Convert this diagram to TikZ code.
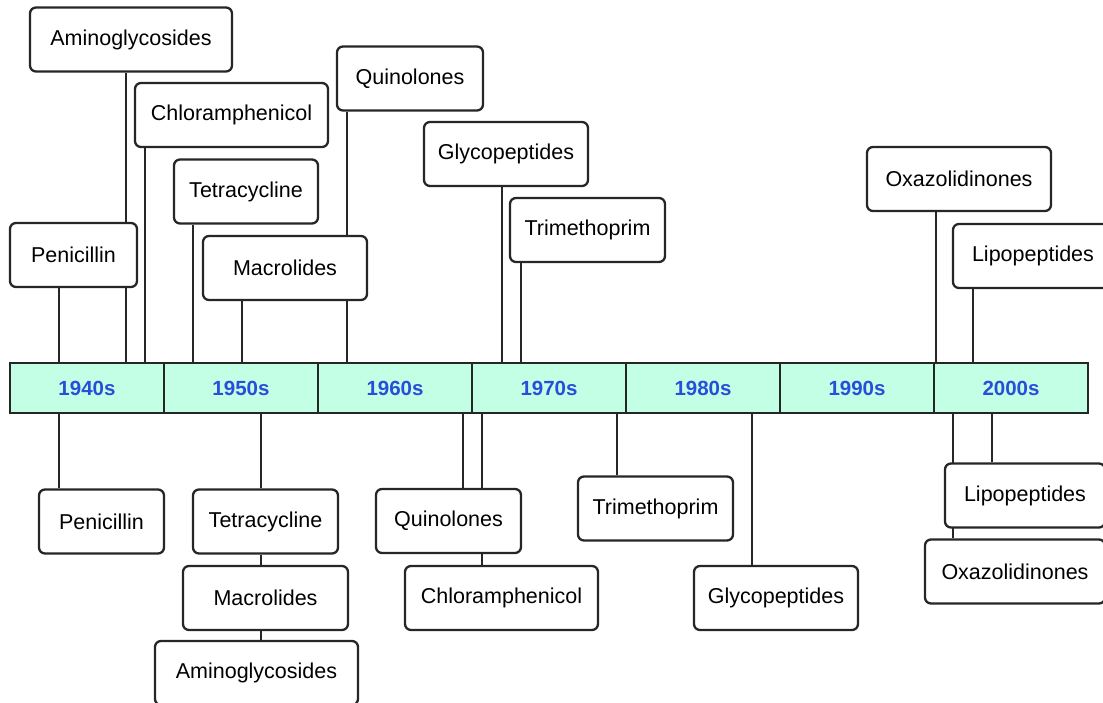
\documentclass[tikz,border=0pt]{standalone}
\usepackage{fontspec}
\setmainfont{Liberation Sans}
\usepackage{tikz}
\usetikzlibrary{backgrounds}
\tikzset{>=latex}
\definecolor{decfill}{RGB}{194,255,229}
\definecolor{decblue}{RGB}{42,78,218}
\tikzset{
  drug/.style={draw=black!85, fill=white, rounded corners=6pt, line width=2.3pt,
    minimum height=64pt, inner sep=0pt,
    font=\fontsize{21.5}{24}\selectfont},
  decade/.style={draw=black!85, fill=decfill, line width=2pt, minimum width=154pt,
    minimum height=50pt, inner sep=0pt, text=decblue,
    font=\fontsize{20.5}{22}\selectfont\bfseries},
  stem/.style={draw=black!85, line width=2.2pt}
}

\begin{document}
\begin{tikzpicture}[x=1pt, y=-1pt]
            \useasboundingbox (0,0) rectangle (1103,703);
            \clip (0,0) rectangle (1103,703);
            % the decades
            \node[decade] (d1940) at (87,388) {1940s};
            \node[decade] (d1950) at (241,388) {1950s};
            \node[decade] (d1960) at (395,388) {1960s};
            \node[decade] (d1970) at (549,388) {1970s};
            \node[decade] (d1980) at (703,388) {1980s};
            \node[decade] (d1990) at (857,388) {1990s};
            \node[decade] (d2000) at (1011,388) {2000s};
            % above the line
            \node[drug, minimum width=202pt] (tAmino) at (131,39.5) {Aminoglycosides};
            \node[drug, minimum width=193pt] (tChlor) at (231.5,115) {Chloramphenicol};
            \node[drug, minimum width=144pt] (tTetra) at (246,191.5) {Tetracycline};
            \node[drug, minimum width=127pt] (tPeni) at (73.5,255) {Penicillin};
            \node[drug, minimum width=164pt] (tMacro) at (285,268) {Macrolides};
            \node[drug, minimum width=146pt] (tQuino) at (410,78.5) {Quinolones};
            \node[drug, minimum width=164pt] (tGlyco) at (506,154) {Glycopeptides};
            \node[drug, minimum width=155pt] (tTrime) at (587.5,230) {Trimethoprim};
            \node[drug, minimum width=184pt] (tOxa) at (959,179) {Oxazolidinones};
            \node[drug, minimum width=160pt] (tLipo) at (1033,256) {Lipopeptides};
            % below the line
            \node[drug, minimum width=125pt] (bPeni) at (101.5,521.5) {Penicillin};
            \node[drug, minimum width=145pt] (bTetra) at (265.5,521.5) {Tetracycline};
            \node[drug, minimum width=165pt] (bMacro) at (265.5,598) {Macrolides};
            \node[drug, minimum width=203pt] (bAmino) at (256.5,673) {Aminoglycosides};
            \node[drug, minimum width=145pt] (bQuino) at (448.5,521) {Quinolones};
            \node[drug, minimum width=193pt] (bChlor) at (501.5,598) {Chloramphenicol};
            \node[drug, minimum width=155pt] (bTrime) at (655.5,508.5) {Trimethoprim};
            \node[drug, minimum width=164pt] (bGlyco) at (776,598) {Glycopeptides};
            \node[drug, minimum width=180pt] (bOxa) at (1015,571.5) {Oxazolidinones};
            \node[drug, minimum width=160pt] (bLipo) at (1025,495.5) {Lipopeptides};
            \begin{scope}[on background layer]
            \draw[stem] ([xshift=-5pt]tAmino.south) -- ([xshift=-5pt]tAmino.south |- d1940.north);
            \draw[stem] ([xshift=-86.5pt]tChlor.south) -- ([xshift=-86.5pt]tChlor.south |- d1940.north);
            \draw[stem] ([xshift=-53pt]tTetra.south) -- ([xshift=-53pt]tTetra.south |- d1950.north);
            \draw[stem] ([xshift=-14.5pt]tPeni.south) -- ([xshift=-14.5pt]tPeni.south |- d1940.north);
            \draw[stem] ([xshift=-43pt]tMacro.south) -- ([xshift=-43pt]tMacro.south |- d1950.north);
            \draw[stem] ([xshift=-63pt]tQuino.south) -- ([xshift=-63pt]tQuino.south |- d1960.north);
            \draw[stem] ([xshift=-4pt]tGlyco.south) -- ([xshift=-4pt]tGlyco.south |- d1970.north);
            \draw[stem] ([xshift=-66.5pt]tTrime.south) -- ([xshift=-66.5pt]tTrime.south |- d1970.north);
            \draw[stem] ([xshift=-23pt]tOxa.south) -- ([xshift=-23pt]tOxa.south |- d2000.north);
            \draw[stem] ([xshift=-60pt]tLipo.south) -- ([xshift=-60pt]tLipo.south |- d2000.north);
            \draw[stem] ([xshift=-42.5pt]bPeni.north) -- ([xshift=-42.5pt]bPeni.north |- d1940.south);
            \draw[stem] ([xshift=-4.5pt]bTetra.north) -- ([xshift=-4.5pt]bTetra.north |- d1950.south);
            \draw[stem] ([xshift=-4.5pt]bMacro.north) -- ([xshift=-4.5pt]bTetra.south);
            \draw[stem] ([xshift=4.5pt]bAmino.north) -- ([xshift=-4.5pt]bMacro.south);
            \draw[stem] ([xshift=14.5pt]bQuino.north) -- ([xshift=14.5pt]bQuino.north |- d1970.south);
            \draw[stem] ([xshift=-19.5pt]bChlor.north) -- ([xshift=-19.5pt]bChlor.north |- d1970.south);
            \draw[stem] ([xshift=-38.5pt]bTrime.north) -- ([xshift=-38.5pt]bTrime.north |- d1980.south);
            \draw[stem] ([xshift=-24pt]bGlyco.north) -- ([xshift=-24pt]bGlyco.north |- d1980.south);
            \draw[stem] ([xshift=-33pt]bLipo.north) -- ([xshift=-33pt]bLipo.north |- d2000.south);
            \draw[stem] ([xshift=-62pt]bOxa.north) -- ([xshift=-62pt]bOxa.north |- d2000.south);
            \end{scope}
        \end{tikzpicture}
\end{document}
